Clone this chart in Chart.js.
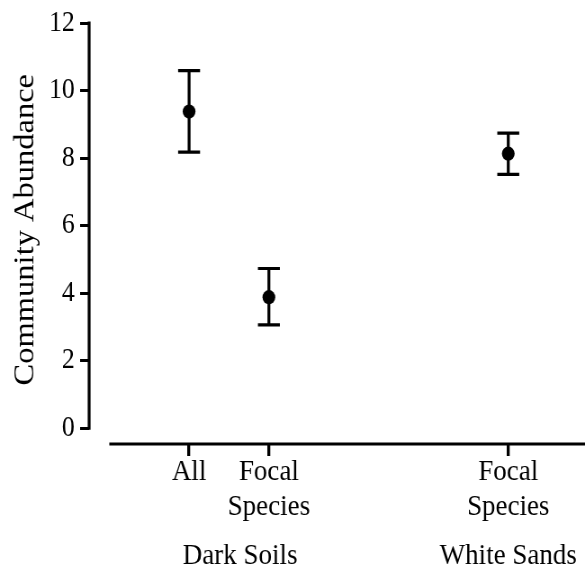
<!DOCTYPE html>
<html>
<head>
<meta charset="utf-8">
<script src="https://cdn.jsdelivr.net/npm/chart.js@4.4.1/dist/chart.umd.min.js"></script>
<style>
  html, body { margin: 0; padding: 0; background: #fff; overflow: hidden; }
  #wrap { width: 650px; height: 567px; transform: scale(0.9, 1); transform-origin: 0 0; }
</style>
</head>
<body>
<div id="wrap"><canvas id="c" width="650" height="567"></canvas></div>
<script>
// ---- data ----
const categories = ['All', 'Focal Species', 'Focal Species'];
const xValues = [1, 2, 5];
const tickLabels = [['All'], ['Focal', 'Species'], ['Focal', 'Species']];
const groupLabels = ['Dark Soils', 'White Sands'];
const groupCenters = [1.64, 5];
const yTitle = 'Community Abundance';
const means = [9.38, 3.88, 8.13];
const lower = [8.18, 3.06, 7.52];
const upper = [10.59, 4.73, 8.74];
const yTickValues = [0, 2, 4, 6, 8, 10, 12];

const FONT = "'Liberation Serif', 'Times New Roman', serif";

const points = xValues.map((x, i) => ({ x: x, y: means[i] }));

const customDraw = {
  id: 'customDraw',
  beforeDatasetsDraw(chart) {
    const ctx = chart.ctx;
    const xs = chart.scales.x, ys = chart.scales.y;
    const area = chart.chartArea;
    ctx.save();
    ctx.strokeStyle = '#000';
    ctx.lineWidth = 3.2;
    ctx.lineCap = 'butt';
    // y axis line (0..12)
    ctx.beginPath();
    ctx.moveTo(area.left, ys.getPixelForValue(0) + 1.5);
    ctx.lineTo(area.left, ys.getPixelForValue(12) - 1.5);
    ctx.stroke();
    // x axis line
    ctx.beginPath();
    ctx.moveTo(xs.getPixelForValue(0), area.bottom);
    ctx.lineTo(chart.width, area.bottom);
    ctx.stroke();
    // error bars
    ctx.lineWidth = 3.2;
    const half = 12.2;
    xValues.forEach((xv, i) => {
      const px = xs.getPixelForValue(xv);
      const pl = ys.getPixelForValue(lower[i]);
      const pu = ys.getPixelForValue(upper[i]);
      ctx.beginPath();
      ctx.moveTo(px, pl); ctx.lineTo(px, pu);
      ctx.moveTo(px - half, pl); ctx.lineTo(px + half, pl);
      ctx.moveTo(px - half, pu); ctx.lineTo(px + half, pu);
      ctx.stroke();
    });
    ctx.restore();
  },
  afterDraw(chart) {
    const ctx = chart.ctx;
    const xs = chart.scales.x, ys = chart.scales.y;
    ctx.save();
    ctx.fillStyle = '#000';
    ctx.font = '30px ' + FONT;
    ctx.textAlign = 'center';
    ctx.textBaseline = 'middle';
    groupLabels.forEach((g, i) => {
      ctx.fillText(g, xs.getPixelForValue(groupCenters[i]), 556);
    });
    // y axis title
    ctx.font = '32.5px ' + FONT;
    ctx.translate(28, ys.getPixelForValue(5.88));
    ctx.rotate(-Math.PI / 2);
    ctx.fillText(yTitle, 0, 0);
    ctx.restore();
  }
};

new Chart(document.getElementById('c'), {
  type: 'scatter',
  data: {
    datasets: [{
      label: yTitle,
      data: points,
      backgroundColor: '#000',
      borderColor: '#000',
      pointRadius: 7.1,
      pointHoverRadius: 7.1,
      borderWidth: 0
    }]
  },
  options: {
    responsive: false,
    animation: false,
    devicePixelRatio: 1,
    layout: { autoPadding: false, padding: { top: 20, left: 0, right: 0, bottom: 0 } },
    plugins: { legend: { display: false }, tooltip: { enabled: false } },
    scales: {
      x: {
        type: 'linear',
        min: -0.253,
        max: 5.962,
        afterFit(scale) { scale.height = 123; scale.paddingLeft = 0; scale.paddingRight = 0; },
        afterBuildTicks(scale) { scale.ticks = xValues.map(v => ({ value: v })); },
        border: { display: false },
        grid: { display: true, drawOnChartArea: false, drawTicks: true, tickLength: 12, color: '#000', lineWidth: 3.3 },
        ticks: {
          color: '#000',
          font: { family: FONT, size: 30, lineHeight: 1.15 },
          padding: -1,
          maxRotation: 0,
          autoSkip: false,
          callback(value) {
            const i = xValues.indexOf(value);
            return i >= 0 ? tickLabels[i] : '';
          }
        }
      },
      y: {
        type: 'linear',
        min: -0.47,
        max: 12,
        afterFit(scale) { scale.width = 99; },
        afterBuildTicks(scale) { scale.ticks = yTickValues.map(v => ({ value: v })); },
        border: { display: false },
        grid: { display: true, drawOnChartArea: false, drawTicks: true, tickLength: 10, color: '#000', lineWidth: 3 },
        ticks: {
          color: '#000',
          font: { family: FONT, size: 28.5 },
          padding: 6
        },
        title: { display: false }
      }
    }
  },
  plugins: [customDraw]
});
</script>
</body>
</html>
